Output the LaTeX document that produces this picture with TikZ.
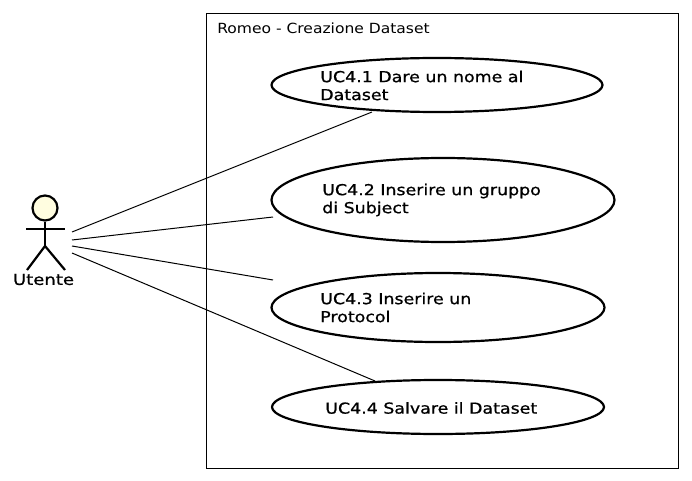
\documentclass[tikz,border=0pt]{standalone}
\usepackage{fontspec}
\setmainfont{DejaVu Sans}
\newfontfamily\ucfont[FakeStretch=1.155,FakeBold=0.8]{DejaVu Sans}
\newfontfamily\actorfont[FakeStretch=1.2,FakeBold=0.8]{DejaVu Sans}
\newfontfamily\titlefont[FakeStretch=1.11]{DejaVu Sans}
\usetikzlibrary{shapes.geometric}
\tikzset{
  usecase/.style={draw=black,line width=1.65pt,fill=white,ellipse,inner sep=0pt},
  uclabel/.style={font=\ucfont\fontsize{11.3}{13.5}\selectfont,align=left,anchor=west,inner sep=0pt},
  link/.style={draw=black,line width=0.75pt},
  bodyline/.style={draw=black,line width=1.65pt}
}
\begin{document}
\begin{tikzpicture}[x=0.75pt,y=-0.75pt]
\useasboundingbox (0,0) rectangle (692,481);
\node[draw=black,line width=0.75pt,minimum width=472*0.75pt,minimum height=454*0.75pt,anchor=north west,inner sep=0pt] (frame) at (206,13.5) {};
\node[anchor=west,inner sep=0pt,font=\titlefont\fontsize{10.5}{12}\selectfont] (title) at (217,28) {Romeo - Creazione Dataset};
\node[usecase,minimum width=331*0.75pt,minimum height=54*0.75pt] (u1) at (437,85) {};
\node[usecase,minimum width=343*0.75pt,minimum height=84*0.75pt] (u2) at (443,200) {};
\node[usecase,minimum width=333*0.75pt,minimum height=69*0.75pt] (u3) at (438,307.5) {};
\node[usecase,minimum width=332*0.75pt,minimum height=54*0.75pt] (u4) at (438,407) {};
\node[uclabel] (t1) at (320,85.5) {UC4.1 Dare un nome al\\Dataset};
\node[uclabel] (t2) at (322,200) {UC4.2 Inserire un gruppo\\di Subject};
\node[uclabel] (t3) at (320,307.5) {UC4.3 Inserire un\\Protocol};
\node[uclabel] (t4) at (325,408) {UC4.4 Salvare il Dataset};
\node[circle,draw=black,line width=1.65pt,fill=yellow!12,minimum size=25*0.75pt,inner sep=0pt] (head) at (45,208) {};
\coordinate (hip) at (45,246);
\coordinate (armL) at (26,229);
\coordinate (armR) at (65,229);
\coordinate (footL) at (27,270);
\coordinate (footR) at (65,270);
\draw[bodyline] (head.south) -- (hip);
\draw[bodyline] (armL) -- (armR);
\draw[bodyline] (footL) -- (hip) -- (footR);
\node[inner sep=0pt,font=\actorfont\fontsize{11.3}{13}\selectfont] (actor) at (43.5,279.5) {Utente};
\coordinate (a1) at (72,232);
\coordinate (a2) at (72,240);
\coordinate (a3) at (72,246);
\coordinate (a4) at (72,253);
\coordinate (e1) at (372,112);
\coordinate (e2) at (273,217);
\coordinate (e3) at (273,280);
\coordinate (e4) at (375,381);
\draw[link] (a1) -- (e1);
\draw[link] (a2) -- (e2);
\draw[link] (a3) -- (e3);
\draw[link] (a4) -- (e4);
\end{tikzpicture}
\end{document}
